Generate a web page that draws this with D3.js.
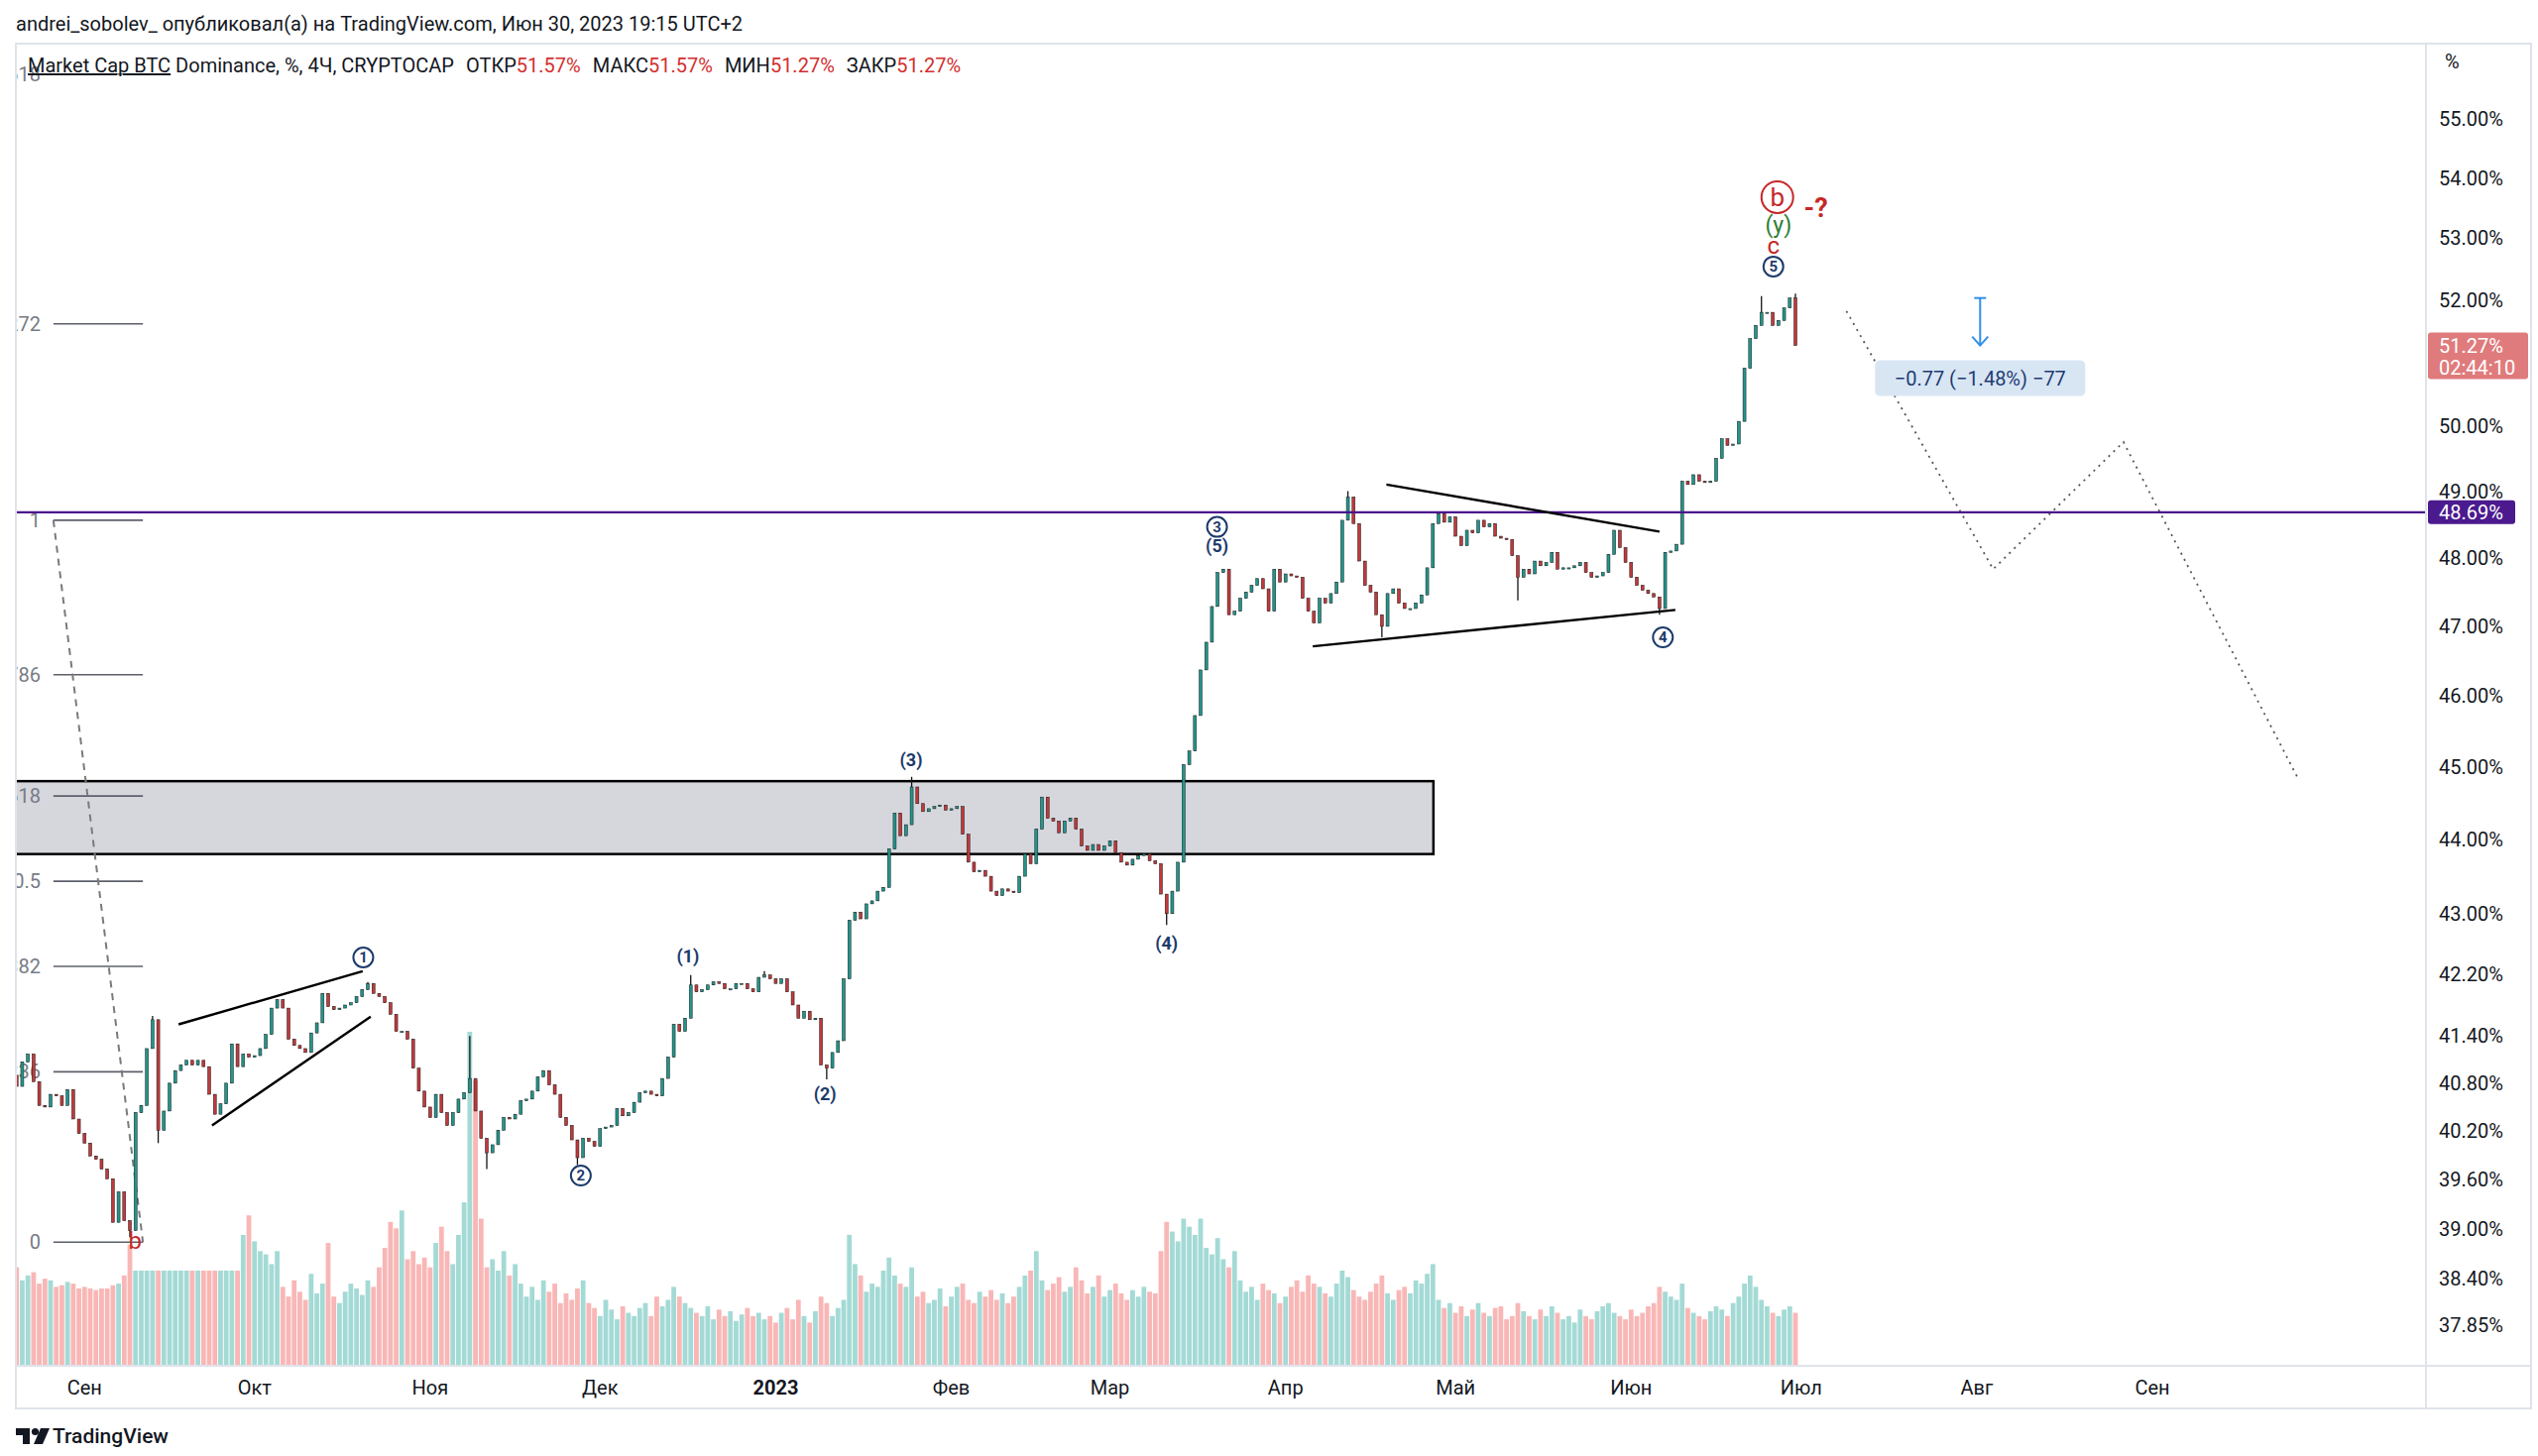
<!DOCTYPE html>
<html><head><meta charset="utf-8">
<script src="https://d3js.org/d3.v7.min.js"></script>
<style>
html,body{margin:0;padding:0;background:#fff;}
svg{display:block;font-family:Roboto,"Liberation Sans",Arial,sans-serif;}
</style>
</head><body>
<svg id="c" width="2560" height="1469"></svg>
<script>
// ---------------- DATA ----------------
const startDate = "2022-08-20";          // first daily candle
const firstOpen = 40.90;
// daily closes, BTC dominance %, 2022-08-20 .. 2023-06-30
const closes = [
40.76,41.07,41.17,40.82,40.52,40.50,40.66,40.64,40.52,40.72,
40.35,40.17,40.05,39.89,39.85,39.73,39.61,39.08,39.45,39.10,
38.98,40.43,40.52,41.24,41.61,40.21,40.45,40.80,40.96,41.03,
41.09,41.03,41.09,41.01,40.66,40.41,40.54,40.80,41.30,41.01,
41.17,41.13,41.15,41.24,41.42,41.76,41.87,41.76,41.36,41.28,
41.24,41.19,41.44,41.57,41.95,41.78,41.74,41.76,41.80,41.83,
41.91,42.00,42.08,41.95,41.91,41.83,41.68,41.46,41.46,41.36,
40.99,40.70,40.50,40.37,40.66,40.43,40.27,40.43,40.60,40.68,
40.86,40.45,40.11,39.93,40.03,40.21,40.37,40.35,40.41,40.58,
40.60,40.70,40.88,40.96,40.78,40.66,40.37,40.27,40.09,39.87,
40.11,40.07,40.01,40.23,40.25,40.27,40.48,40.39,40.43,40.56,
40.68,40.70,40.66,40.64,40.86,41.13,41.55,41.46,41.63,42.06,
41.97,42.00,42.06,42.10,42.08,42.01,42.01,42.08,42.08,42.01,
41.97,42.16,42.19,42.14,42.08,42.14,41.97,41.80,41.63,41.72,
41.61,41.63,41.03,40.99,41.19,41.34,42.14,42.91,43.02,42.93,
43.13,43.17,43.30,43.35,43.87,44.36,44.05,44.20,44.72,44.49,
44.38,44.42,44.45,44.47,44.40,44.42,44.45,44.07,43.69,43.56,
43.58,43.50,43.30,43.24,43.33,43.30,43.28,43.50,43.80,43.67,
44.14,44.58,44.29,44.25,44.09,44.25,44.29,44.14,43.91,43.85,
43.93,43.85,43.91,43.98,43.82,43.69,43.65,43.73,43.78,43.80,
43.71,43.67,43.26,43.00,43.30,43.69,45.03,45.22,45.72,46.37,
46.77,47.29,47.79,47.84,47.17,47.22,47.41,47.50,47.60,47.70,
47.55,47.22,47.84,47.65,47.77,47.74,47.72,47.41,47.22,47.05,
47.41,47.34,47.48,47.65,48.57,48.92,48.52,47.96,47.60,47.50,
47.17,47.00,47.48,47.55,47.34,47.26,47.26,47.34,47.46,47.86,
48.52,48.67,48.54,48.62,48.33,48.19,48.42,48.38,48.57,48.47,
48.52,48.33,48.30,48.28,48.04,47.72,47.84,47.77,47.96,47.89,
47.94,48.09,47.84,47.86,47.86,47.89,47.94,47.79,47.72,47.74,
47.79,48.06,48.42,48.16,47.94,47.72,47.60,47.53,47.48,47.43,
47.26,48.09,48.11,48.21,49.16,49.11,49.26,49.16,49.14,49.16,
49.51,49.81,49.71,49.73,50.08,50.91,51.38,51.59,51.80,51.80,
51.59,51.67,51.87,52.03,51.27
];
// daily volume (relative units)
const volumes = [
60,52,55,57,50,53,52,48,49,51,
50,47,48,47,46,47,47,49,50,55,
74,58,58,58,58,58,58,58,58,58,
58,58,58,58,58,58,58,58,58,58,
80,92,76,70,68,62,70,48,42,52,
45,40,56,44,50,75,42,38,45,50,
47,43,52,48,60,72,88,84,95,65,
70,62,66,60,75,85,70,62,80,100,
205,175,90,60,65,58,70,55,62,50,
42,48,40,52,45,50,38,44,40,47,
52,38,35,30,40,34,28,36,32,30,
35,38,30,42,36,40,48,42,38,35,
32,30,36,28,34,30,33,27,31,35,
30,32,28,30,26,32,35,28,40,30,
26,33,42,38,30,35,40,80,62,55,
45,50,48,58,66,55,50,48,60,42,
45,38,40,47,36,42,48,50,40,38,
45,42,46,40,44,38,42,48,55,58,
70,52,46,50,54,45,48,60,52,44,
48,55,42,46,50,44,40,46,42,48,
45,44,70,88,82,76,90,85,80,90,
72,68,78,65,60,70,52,45,48,40,
50,46,44,38,42,48,52,45,55,50,
48,44,42,50,58,54,46,42,40,45,
50,55,44,40,46,48,44,52,50,56,
62,40,35,38,32,36,30,34,38,32,
30,35,36,28,30,38,33,30,28,34,
30,36,32,28,30,26,34,30,28,33,
36,38,32,30,28,34,30,32,36,38,
48,45,42,40,50,35,32,30,28,33,
36,34,30,38,42,50,55,48,40,36,
32,30,34,36,32
];
// notable wick extremes (day index from startDate)
const wickExtremes = [
 {day:20,low:38.90},{day:24,high:41.66},{day:25,low:40.05},{day:62,high:42.10},
 {day:80,high:41.40},{day:83,low:39.73},{day:99,low:39.78},{day:119,high:42.19},
 {day:132,high:42.24},{day:143,low:40.85},{day:158,high:44.86},{day:203,low:42.85},
 {day:235,high:49.01},{day:241,low:46.84},{day:265,low:47.38},{day:290,low:47.17},
 {day:308,high:52.06},{day:314,high:52.10}
];
const priceTicks = [55,54,53,52,50,49,48,47,46,45,44,43,42.2,41.4,40.8,40.2,39.6,39,38.4,37.85];
const monthDates = ["2022-09-01","2022-10-01","2022-11-01","2022-12-01","2023-01-01","2023-02-01","2023-03-01","2023-04-01","2023-05-01","2023-06-01","2023-07-01","2023-08-01","2023-09-01"];
const monthLabels = ["Сен","Окт","Ноя","Дек","2023","Фев","Мар","Апр","Май","Июн","Июл","Авг","Сен"];
const fibLevels = [1.618,1.272,1,0.786,0.618,0.5,0.382,0.236,0];
const fibLabels = ["1.618","1.272","1","0.786","0.618","0.5","0.382","0.236","0"];
const fibAnchor = {day0:6.5, day1:22.3, p0:38.84, p1:48.57};
const zone = {day0:-6, day1:250.1, top:44.80, bottom:43.80};
const triangleUpper = [[241.8,49.11],[290.0,48.40]];
const triangleLower = [[228.8,46.71],[292.8,47.24]];
const wedgeUpper = [[28.6,41.55],[61.1,42.24]];
const wedgeLower = [[34.5,40.27],[62.5,41.65]];
const projection = [[323.0,51.82],[348.9,47.84],[371.9,49.76],[402.9,44.81]];
const measure = {day:346.6, from:52.03, to:51.27, label:"−0.77 (−1.48%) −77"};
const hLevel = 48.69;
const lastPrice = 51.27, countdown = "02:44:10";
const legendVals = {open:"51.57%", high:"51.57%", low:"51.27%", close:"51.27%"};
const waveLabels = [
 {t:"1",kind:"circ",day:61.2,v:42.42},
 {t:"2",kind:"circ",day:99.6,v:39.65},
 {t:"(1)",kind:"paren",day:118.5,v:42.44},
 {t:"(2)",kind:"paren",day:142.7,v:40.66},
 {t:"(3)",kind:"paren",day:157.9,v:45.10},
 {t:"(4)",kind:"paren",day:203.0,v:42.61},
 {t:"3",kind:"circ",day:211.9,v:48.47},
 {t:"(5)",kind:"paren",day:211.9,v:48.19},
 {t:"4",kind:"circ",day:290.6,v:46.84},
 {t:"5",kind:"circ",day:310.1,v:52.54},
 {t:"c",kind:"red",day:310.1,v:52.86},
 {t:"(y)",kind:"green",day:311.0,v:53.22},
 {t:"b",kind:"redcirc",day:310.8,v:53.68},
 {t:"-?",kind:"redbold",day:317.6,v:53.50},
 {t:"b",kind:"red",day:20.9,v:38.84}
];

// ---------------- LAYOUT ----------------
const svg = d3.select("#c");
const plot = {l:16, r:2447, t:44, b:1378, axisR:2553};
const navy = "#1d3b6b", red = "#c62828", green = "#2e7d32";
const pDay = d3.utcParse("%Y-%m-%d");
const t0 = pDay(startDate);
const dayDate = d => new Date(t0.getTime() + d*86400000);

const x = d3.scaleUtc().domain([pDay("2022-09-01"), pDay("2023-09-01")]).range([85.3, 2171]);
const y = d3.scaleLog().domain([37.85, 55]).range([1337.4, 119.8]);
const vy = d3.scaleLinear().domain([0, 205]).range([1377, 1041]);
const X = d => x(dayDate(d));

svg.append("rect").attr("width",2560).attr("height",1469).attr("fill","#fff");

// header
svg.append("text").attr("x",16).attr("y",31).attr("font-size",20).attr("fill","#131722")
  .text("andrei_sobolev_ опубликовал(а) на TradingView.com, Июн 30, 2023 19:15 UTC+2");

// frame
const frame = svg.append("g").attr("stroke","#e0e3eb").attr("stroke-width",2).attr("fill","none");
frame.append("rect").attr("x",plot.l).attr("y",plot.t).attr("width",plot.axisR-plot.l).attr("height",1421-plot.t);
frame.append("line").attr("x1",plot.r).attr("x2",plot.r).attr("y1",plot.t).attr("y2",1421);
frame.append("line").attr("x1",plot.l).attr("x2",plot.axisR).attr("y1",plot.b).attr("y2",plot.b);

svg.append("clipPath").attr("id","clip").append("rect")
  .attr("x",plot.l+1).attr("y",plot.t+1).attr("width",plot.r-plot.l-2).attr("height",plot.b-plot.t-2);
const g = svg.append("g").attr("clip-path","url(#clip)");

// zone
g.append("rect").attr("x",X(zone.day0)).attr("y",y(zone.top))
  .attr("width",X(zone.day1)-X(zone.day0)).attr("height",y(zone.bottom)-y(zone.top))
  .attr("fill","#d6d7dd").attr("stroke","#000").attr("stroke-width",2.5);

// candles data
const candles = closes.map((c,i)=>({i, date:dayDate(i), open: i? closes[i-1] : firstOpen, close:c, vol: volumes[i]}));
candles.forEach(cd=>{ cd.high=Math.max(cd.open,cd.close); cd.low=Math.min(cd.open,cd.close); });
wickExtremes.forEach(w=>{ const cd=candles[w.day]; if(!cd) return; if(w.high) cd.high=Math.max(cd.high,w.high); if(w.low) cd.low=Math.min(cd.low,w.low); });

// volume
g.append("g").selectAll("rect").data(candles.filter(d=>d.vol!=null)).join("rect")
  .attr("x",d=>x(d.date)-2.4).attr("width",4.8)
  .attr("y",d=>vy(d.vol)).attr("height",d=>vy(0)-vy(d.vol))
  .attr("fill",d=>d.close>=d.open?"#26a69a":"#ef5350").attr("fill-opacity",0.42);

// fib
const fy0 = y(fibAnchor.p0), fy1 = y(fibAnchor.p1);
const fibG = g.append("g");
fibLevels.forEach((lv,k)=>{
  const yy = fy0 + (fy1-fy0)*lv;
  fibG.append("line").attr("x1",X(fibAnchor.day0)).attr("x2",X(fibAnchor.day1)).attr("y1",yy).attr("y2",yy)
    .attr("stroke","#5d606b").attr("stroke-width",1.6);
  fibG.append("text").attr("x",41).attr("y",yy).attr("dy","0.35em").attr("text-anchor","end")
    .attr("font-size",20).attr("fill","#787b86").text(fibLabels[k]);
});
fibG.append("line").attr("x1",X(fibAnchor.day0)).attr("y1",fy1).attr("x2",X(fibAnchor.day1)).attr("y2",fy0)
  .attr("stroke","#7a7a7a").attr("stroke-width",2).attr("stroke-dasharray","7,6");

// candles
const cg = g.append("g");
cg.selectAll("line").data(candles).join("line")
  .attr("x1",d=>x(d.date)).attr("x2",d=>x(d.date)).attr("y1",d=>y(d.high)).attr("y2",d=>y(d.low))
  .attr("stroke","#141414").attr("stroke-width",1.3);
cg.selectAll("rect").data(candles).join("rect")
  .attr("x",d=>x(d.date)-1.5).attr("width",3.0)
  .attr("y",d=>y(Math.max(d.open,d.close)))
  .attr("height",d=>Math.max(1.2, y(Math.min(d.open,d.close))-y(Math.max(d.open,d.close))))
  .attr("fill",d=>d.close>=d.open?"#22958b":"#c0393b").attr("stroke","#1a1a1a").attr("stroke-width",0.5);

// horizontal level
g.append("line").attr("x1",plot.l).attr("x2",plot.r).attr("y1",y(hLevel)).attr("y2",y(hLevel))
  .attr("stroke","#4a148c").attr("stroke-width",2.2);

// trend lines
const line = d3.line().x(p=>X(p[0])).y(p=>y(p[1]));
[triangleUpper, triangleLower, wedgeUpper, wedgeLower].forEach(seg=>{
  g.append("path").attr("d",line(seg)).attr("fill","none").attr("stroke","#000").attr("stroke-width",2.4);
});
g.append("path").attr("d",line(projection)).attr("fill","none").attr("stroke","#555")
  .attr("stroke-width",1.8).attr("stroke-dasharray","2,5");

// measure tool
const mx = X(measure.day), my1 = y(measure.from), my2 = y(measure.to);
const mg = g.append("g").attr("stroke","#2f8fe6").attr("stroke-width",2).attr("fill","none");
mg.append("line").attr("x1",mx).attr("x2",mx).attr("y1",my1).attr("y2",my2);
mg.append("line").attr("x1",mx-6).attr("x2",mx+6).attr("y1",my1).attr("y2",my1);
mg.append("path").attr("d",`M${mx-8},${my2-9} L${mx},${my2} L${mx+8},${my2-9}`);
g.append("rect").attr("x",mx-106).attr("y",my2+15).attr("width",212).attr("height",36).attr("rx",5)
  .attr("fill","#d8e6f4");
g.append("text").attr("x",mx).attr("y",my2+33).attr("dy","0.35em").attr("text-anchor","middle")
  .attr("font-size",20).attr("fill","#1f3b73").text(measure.label);

// wave labels
const wl = g.append("g");
waveLabels.forEach(w=>{
  const cx = X(w.day), cy = y(w.v);
  if(w.kind==="circ"){
    wl.append("circle").attr("cx",cx).attr("cy",cy).attr("r",10).attr("fill","#fff").attr("stroke",navy).attr("stroke-width",2);
    wl.append("text").attr("x",cx).attr("y",cy).attr("dy","0.36em").attr("text-anchor","middle")
      .attr("font-size",15).attr("font-weight",700).attr("fill",navy).text(w.t);
  } else if(w.kind==="paren"){
    wl.append("text").attr("x",cx).attr("y",cy).attr("dy","0.35em").attr("text-anchor","middle")
      .attr("font-size",18).attr("font-weight",700).attr("fill",navy).text(w.t);
  } else if(w.kind==="red"){
    wl.append("text").attr("x",cx).attr("y",cy).attr("dy","0.3em").attr("text-anchor","middle")
      .attr("font-size",24).attr("fill",red).text(w.t);
  } else if(w.kind==="green"){
    wl.append("text").attr("x",cx).attr("y",cy).attr("dy","0.35em").attr("text-anchor","middle")
      .attr("font-size",23).attr("fill",green).text(w.t);
  } else if(w.kind==="redcirc"){
    wl.append("circle").attr("cx",cx).attr("cy",cy).attr("r",16).attr("fill","#fff").attr("stroke",red).attr("stroke-width",2);
    wl.append("text").attr("x",cx).attr("y",cy).attr("dy","0.36em").attr("text-anchor","middle")
      .attr("font-size",26).attr("fill",red).text(w.t);
  } else if(w.kind==="redbold"){
    wl.append("text").attr("x",cx).attr("y",cy).attr("dy","0.35em").attr("text-anchor","middle")
      .attr("font-size",27).attr("font-weight",700).attr("fill",red).text(w.t);
  }
});

// legend
const lg = svg.append("text").attr("x",28).attr("y",73).attr("font-size",20).attr("fill","#131722");
lg.append("tspan").attr("text-decoration","underline").text("Market Cap BTC");
lg.append("tspan").text(" Dominance, %, 4Ч, CRYPTOCAP");
[["ОТКР",legendVals.open],["МАКС",legendVals.high],["МИН",legendVals.low],["ЗАКР",legendVals.close]].forEach(([k,v])=>{
  lg.append("tspan").attr("dx",12).text(k);
  lg.append("tspan").attr("fill","#d32f2f").text(v);
});

// right axis
const ax = svg.append("g").attr("font-size",20).attr("fill","#131722");
ax.append("text").attr("x",2466).attr("y",62).attr("dy","0.35em").text("%");
priceTicks.forEach(v=>{
  ax.append("text").attr("x",2460).attr("y",y(v)).attr("dy","0.35em").text(d3.format(".2f")(v)+"%");
});
// last price label
const ly = y(lastPrice);
svg.append("rect").attr("x",2449).attr("y",ly-13).attr("width",101).attr("height",47).attr("rx",3).attr("fill","#df7b7c");
svg.append("text").attr("x",2460).attr("y",ly).attr("dy","0.35em").attr("font-size",20).attr("fill","#fff").text(d3.format(".2f")(lastPrice)+"%");
svg.append("text").attr("x",2460).attr("y",ly+22).attr("dy","0.35em").attr("font-size",20).attr("fill","#fff").text(countdown);
// level label
const hy = y(hLevel);
svg.append("rect").attr("x",2449).attr("y",hy-12).attr("width",88).attr("height",24).attr("rx",3).attr("fill","#4a1a8e");
svg.append("text").attr("x",2460).attr("y",hy).attr("dy","0.35em").attr("font-size",20).attr("fill","#fff").text(d3.format(".2f")(hLevel)+"%");

// time axis
const tx = svg.append("g").attr("font-size",20).attr("fill","#131722").attr("text-anchor","middle");
monthDates.forEach((d,k)=>{
  tx.append("text").attr("x",x(pDay(d))).attr("y",1400).attr("dy","0.35em")
    .attr("font-weight",monthLabels[k]==="2023"?700:400).text(monthLabels[k]);
});

// logo
const logo = svg.append("g").attr("fill","#131722");
logo.append("path").attr("d","M16 1441 h14 v16 h-7 v-9 h-7 z");
logo.append("circle").attr("cx",35.5).attr("cy",1444.5).attr("r",3.6);
logo.append("path").attr("d","M41 1441 h9 l-7 16 h-9 z");
svg.append("text").attr("x",53).attr("y",1456).attr("font-size",21).attr("font-weight",500).attr("fill","#131722").text("TradingView");
</script>
</body></html>
